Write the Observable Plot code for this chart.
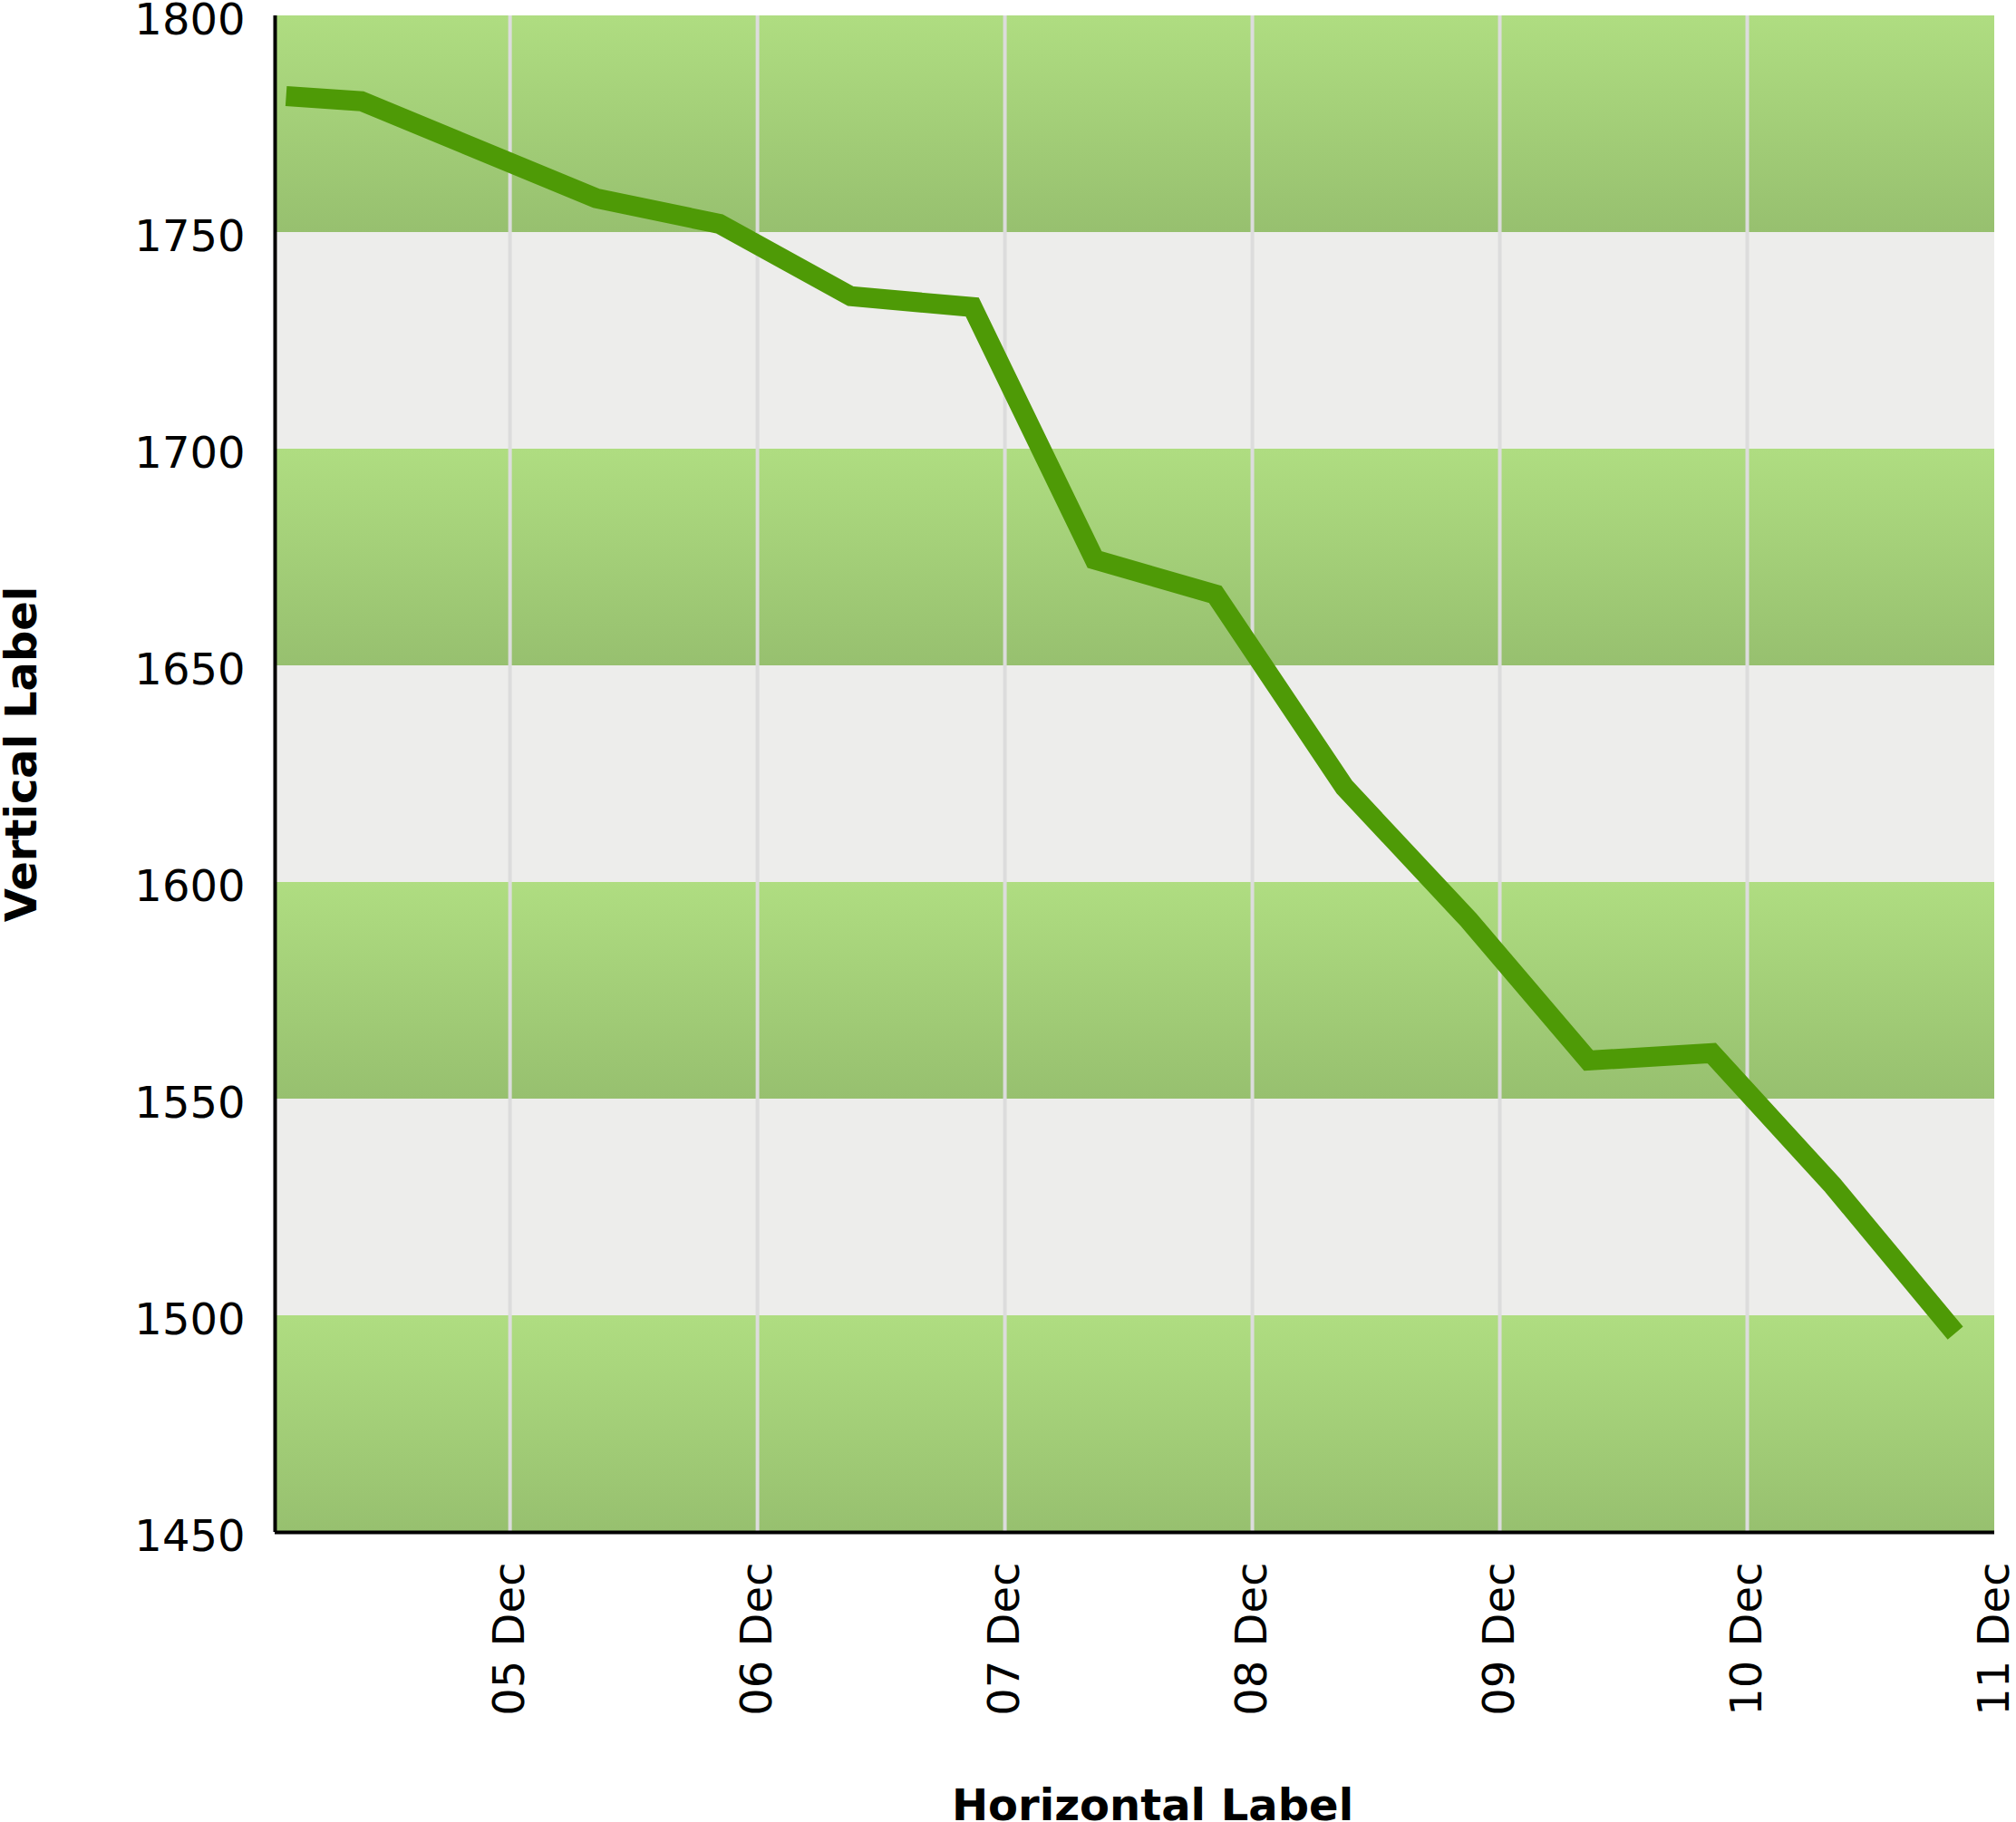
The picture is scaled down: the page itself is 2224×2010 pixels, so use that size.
<!DOCTYPE html>
<html>
<head>
<meta charset="utf-8">
<script src="https://cdn.jsdelivr.net/npm/d3@7"></script>
<script src="https://cdn.jsdelivr.net/npm/@observablehq/plot@0.6"></script>
<style>
  html, body { margin: 0; padding: 0; background: #ffffff; }
  #chart svg { display: block; }
</style>
</head>
<body>
<div id="chart"></div>
<script>
// ---- data ----
const times = [
  "2023-12-04T02:17Z", "2023-12-04T09:35Z",
  "2023-12-05T08:21Z", "2023-12-05T20:18Z",
  "2023-12-06T09:03Z", "2023-12-06T20:50Z",
  "2023-12-07T08:42Z", "2023-12-07T20:24Z",
  "2023-12-08T08:56Z", "2023-12-08T21:00Z",
  "2023-12-09T08:36Z", "2023-12-09T20:33Z",
  "2023-12-10T08:19Z", "2023-12-10T20:11Z"
];
const values = [
  1781.5, 1780.3,
  1757.9, 1752.0,
  1735.3, 1732.8,
  1674.5, 1666.5,
  1622.0, 1591.3,
  1558.9, 1560.6,
  1530.0, 1496.0
];
const yTicks = [1450, 1500, 1550, 1600, 1650, 1700, 1750, 1800];
const xTicks = ["2023-12-05", "2023-12-06", "2023-12-07", "2023-12-08", "2023-12-09", "2023-12-10", "2023-12-11"];
const greenBands = [[1450, 1500], [1550, 1600], [1650, 1700], [1750, 1800]];
const greyBands = [[1500, 1550], [1600, 1650], [1700, 1750]];
const xDomain = ["2023-12-04T01:13Z", "2023-12-11T00:00Z"];
const yDomain = [1450, 1800];
const xTitle = "Horizontal Label";
const yTitle = "Vertical Label";

// ---- build ----
const series = times.map((t, i) => ({t: new Date(t), v: values[i]}));
const xd = xDomain.map(d => new Date(d));
const xTickDates = xTicks.map(d => new Date(d));

const defs = () => {
  const el = d3.create("svg:defs");
  const g = el.append("linearGradient")
    .attr("id", "bandGrad").attr("x1", 0).attr("y1", 0).attr("x2", 0).attr("y2", 1);
  g.append("stop").attr("offset", "0%").attr("stop-color", "#afdd81");
  g.append("stop").attr("offset", "100%").attr("stop-color", "#97c06f");
  return el.node();
};

const chart = Plot.plot({
  width: 2224,
  height: 2010,
  marginLeft: 303,
  marginRight: 24,
  marginTop: 17,
  marginBottom: 320,
  style: {fontFamily: "'DejaVu Sans', sans-serif", fontSize: "48px", background: "#ffffff", color: "#000000"},
  x: {type: "utc", domain: xd},
  y: {domain: yDomain},
  marks: [
    defs,
    Plot.rect(greyBands, {x1: () => xd[0], x2: () => xd[1], y1: d => d[0], y2: d => d[1], fill: "#ededeb"}),
    Plot.rect(greenBands, {x1: () => xd[0], x2: () => xd[1], y1: d => d[0], y2: d => d[1], fill: "url(#bandGrad)"}),
    Plot.ruleX(xTickDates.slice(0, -1), {stroke: "#dcdcdc", strokeWidth: 4}),
    Plot.line(series, {x: "t", y: "v", stroke: "#4e9a06", strokeWidth: 22,
      strokeLinejoin: "miter", strokeLinecap: "butt", strokeMiterlimit: 10}),
    Plot.ruleX([xd[0]], {stroke: "#000000", strokeWidth: 4}),
    Plot.ruleY([yDomain[0]], {stroke: "#000000", strokeWidth: 4}),
    Plot.axisY(yTicks, {tickSize: 0, tickPadding: 33, fontSize: 48, label: null, dy: 5, fill: "#000000",
      tickFormat: d => String(d)}),
    Plot.axisX(xTickDates, {tickSize: 0, tickPadding: 33, tickRotate: -90, textAnchor: "end", lineAnchor: "middle",
      tickFormat: d3.utcFormat("%d %b"), fontSize: 48, label: null, fill: "#000000"}),
    Plot.text([yTitle], {text: d => d, frameAnchor: "left", rotate: -90, textAnchor: "middle", lineAnchor: "middle",
      dx: -279, dy: -22, fontSize: 48, fontWeight: "bold", fill: "#000000"}),
    Plot.text([xTitle], {text: d => d, frameAnchor: "bottom", textAnchor: "middle", lineAnchor: "middle",
      dx: 19.5, dy: 302, fontSize: 48, fontWeight: "bold", fill: "#000000"})
  ]
});
document.getElementById("chart").appendChild(chart);
</script>
</body>
</html>
